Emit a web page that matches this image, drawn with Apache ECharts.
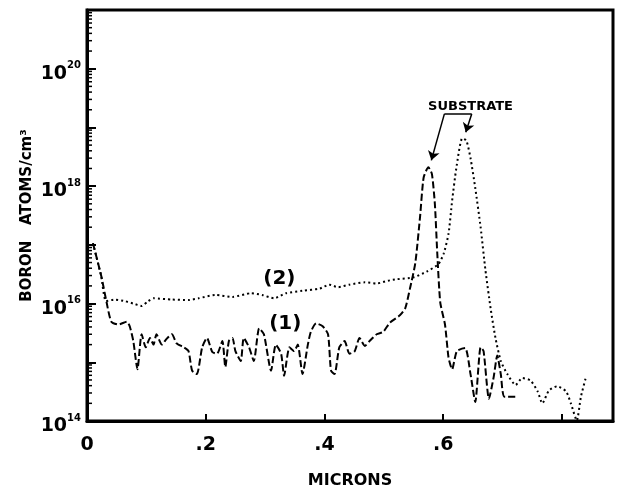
<!DOCTYPE html>
<html>
<head>
<meta charset="utf-8">
<script src="https://cdn.jsdelivr.net/npm/echarts@6/dist/echarts.min.js"></script>
<style>
  html, body { margin: 0; padding: 0; background: #fff; }
  #main { width: 618px; height: 494px; }
</style>
</head>
<body>
<div id="main"></div>
<script>
// depth in microns, boron concentration in atoms/cm3
var depth1 = [0.010,0.024,0.033,0.041,0.053,0.067,0.072,0.078,0.085,0.092,0.099,0.106,0.112,0.117,0.126,0.134,0.143,0.151,0.163,0.171,0.177,0.185,0.194,0.202,0.211,0.219,0.228,0.233,0.239,0.245,0.250,0.259,0.264,0.273,0.281,0.290,0.298,0.310,0.318,0.327,0.332,0.341,0.349,0.355,0.363,0.372,0.377,0.386,0.397,0.406,0.411,0.417,0.425,0.434,0.442,0.451,0.459,0.468,0.476,0.488,0.499,0.510,0.527,0.536,0.544,0.553,0.561,0.567,0.575,0.581,0.586,0.590,0.595,0.603,0.609,0.615,0.623,0.637,0.646,0.654,0.663,0.668,0.677,0.685,0.691,0.697,0.703,0.725];
var boron1 = [1.07e17,2.95e16,1.05e16,4.9e15,4.4e15,4.9e15,4.1e15,2.3e15,7.6e14,3.0e15,1.8e15,2.6e15,2.0e15,3.0e15,2.0e15,2.5e15,3.0e15,2.1e15,1.8e15,1.55e15,7.2e14,6.3e14,1.8e15,2.6e15,1.5e15,1.4e15,2.3e15,8.3e14,2.3e15,2.6e15,1.55e15,1.05e15,2.6e15,1.8e15,1.05e15,3.8e15,3.0e15,7.2e14,2.0e15,1.4e15,5.9e14,1.8e15,1.55e15,2.0e15,6.3e14,2.0e15,3.3e15,4.6e15,4.1e15,3.0e15,7.2e14,6.3e14,1.8e15,2.3e15,1.4e15,1.55e15,2.6e15,1.9e15,2.3e15,3.0e15,3.3e15,4.7e15,6.3e15,8.3e15,1.8e16,4.9e16,3.0e17,1.4e18,2.1e18,1.6e18,4.9e17,7.2e16,1.05e16,4.4e15,1.2e15,7.6e14,1.55e15,1.75e15,6.3e14,2.1e14,1.8e15,1.55e15,2.4e14,5.6e14,1.3e15,6.3e14,2.6e14,2.6e14];

var depth2 = [0.010,0.024,0.032,0.047,0.064,0.078,0.092,0.103,0.112,0.143,0.171,0.188,0.216,0.245,0.276,0.295,0.315,0.335,0.363,0.392,0.408,0.423,0.442,0.468,0.488,0.507,0.522,0.550,0.572,0.592,0.601,0.609,0.615,0.622,0.632,0.639,0.646,0.654,0.663,0.671,0.680,0.688,0.697,0.708,0.722,0.733,0.747,0.759,0.767,0.778,0.792,0.807,0.815,0.825,0.832,0.841];
var boron2 = [1.07e17,2.9e16,1.1e16,1.17e16,1.1e16,1.0e16,9.1e15,1.1e16,1.23e16,1.17e16,1.15e16,1.23e16,1.4e16,1.3e16,1.5e16,1.4e16,1.23e16,1.5e16,1.65e16,1.8e16,2.1e16,1.9e16,2.1e16,2.3e16,2.2e16,2.45e16,2.6e16,2.8e16,3.5e16,4.7e16,7.2e16,1.55e17,5.6e17,2.0e18,6.5e18,6.0e18,3.0e18,9.3e17,2.0e17,3.8e16,8.1e15,2.6e15,1.05e15,6.3e14,4.1e14,5.4e14,4.9e14,3.2e14,2.0e14,3.3e14,3.9e14,3.2e14,2.0e14,1.02e14,2.6e14,5.9e14];

var xTickLabels = ['0', '.2', '.4', '.6'];
var yDecades = [14, 15, 16, 17, 18, 19, 20, 21];

// curve labels and the substrate bracket, in data units
var notePos = [[0.324, 2.6e16], [0.334, 4.5e15], [0.646, 2.3e19]];
var noteText = ['(2)', '(1)', 'SUBSTRATE'];
var noteSize = [20, 20, 13];
var bracket = [[0.602, 1.7e19], [0.648, 1.7e19]];
var arrowTips = [[0.580, 2.75e18], [0.638, 8.3e18]];

var font = 'DejaVu Sans';

var minorTicks = [];
yDecades.slice(0, -1).forEach(function (e) {
  for (var m = 2; m <= 9; m++) minorTicks.push([0, m * Math.pow(10, e)]);
});

var line1 = depth1.map(function (d, i) { return [d, boron1[i]]; });
var line2 = depth2.map(function (d, i) { return [d, boron2[i]]; });

var myChart = echarts.init(document.getElementById('main'));

myChart.setOption({
  animation: false,
  grid: {
    left: 87, right: 5, top: 10, bottom: 67,
    show: true, borderColor: '#000', borderWidth: 3, backgroundColor: 'transparent'
  },
  xAxis: {
    type: 'value', min: 0, max: 0.886, interval: 0.2,
    name: 'MICRONS', nameLocation: 'middle', nameGap: 52,
    nameTextStyle: { fontFamily: font, fontWeight: 'bold', fontSize: 16, color: '#000' },
    axisLine: { lineStyle: { color: '#000', width: 3 } },
    axisTick: { inside: true, length: 7, lineStyle: { color: '#000', width: 2 } },
    splitLine: { show: false },
    axisLabel: {
      margin: 15, color: '#000', fontFamily: font, fontWeight: 'bold', fontSize: 19,
      formatter: function (v) {
        var k = Math.round(v / 0.2);
        return (Math.abs(v - k * 0.2) < 1e-6 && k < xTickLabels.length) ? xTickLabels[k] : '';
      }
    }
  },
  yAxis: {
    type: 'log', logBase: 10, min: 1e14, max: 1e21, interval: 1,
    name: 'BORON   ATOMS/cm³', nameLocation: 'middle', nameGap: 52, nameMoveOverlap: false,
    nameTextStyle: { fontFamily: font, fontWeight: 'bold', fontSize: 15, color: '#000' },
    axisLine: { lineStyle: { color: '#000', width: 3 } },
    axisTick: { inside: true, length: 9, lineStyle: { color: '#000', width: 2 } },
    splitLine: { show: false },
    axisLabel: {
      margin: 6, color: '#000',
      formatter: function (v) {
        var e = Math.round(Math.log10(v));
        if (e % 2 || e > 20) return '';
        return '{b|10}{s|' + e + '}';
      },
      rich: {
        b: { fontFamily: font, fontWeight: 'bold', fontSize: 19, lineHeight: 24, color: '#000', padding: [10, 0, 0, 0] },
        s: { fontFamily: font, fontWeight: 'bold', fontSize: 10, verticalAlign: 'top', lineHeight: 24, color: '#000', padding: [4, 0, 0, 0] }
      }
    }
  },
  series: [
    {
      name: 'minor ticks', type: 'custom', silent: true, clip: false, z: 10,
      coordinateSystem: 'cartesian2d',
      dimensions: ['x', 'y'], encode: { x: 0, y: 1 },
      data: minorTicks,
      renderItem: function (params, api) {
        var p = api.coord([api.value(0), api.value(1)]);
        return {
          type: 'line',
          shape: { x1: p[0], y1: p[1], x2: p[0] + 5, y2: p[1] },
          style: { stroke: '#000', lineWidth: 1.5 }
        };
      }
    },
    {
      name: '(1)', type: 'line', data: line1, symbol: 'none', smooth: 0.2,
      lineStyle: { color: '#000', width: 2, type: [7, 3] }
    },
    {
      name: '(2)', type: 'line', data: line2, symbol: 'none', smooth: 0.2,
      lineStyle: { color: '#000', width: 2, type: [2, 3] },
      markLine: {
        silent: true, symbolSize: 9,
        lineStyle: { color: '#000', width: 1.5, type: 'solid' },
        label: { show: false },
        data: [
          [{ coord: bracket[0], symbol: 'none' }, { coord: arrowTips[0], symbol: 'arrow' }],
          [{ coord: bracket[0], symbol: 'none' }, { coord: bracket[1], symbol: 'none' }],
          [{ coord: bracket[1], symbol: 'none' }, { coord: arrowTips[1], symbol: 'arrow' }]
        ]
      }
    },
    {
      name: 'notes', type: 'custom', silent: true, clip: false, z: 20,
      coordinateSystem: 'cartesian2d',
      dimensions: ['x', 'y', 'i'], encode: { x: 0, y: 1 },
      data: notePos.map(function (p, i) { return [p[0], p[1], i]; }),
      renderItem: function (params, api) {
        var i = api.value(2);
        var p = api.coord([api.value(0), api.value(1)]);
        return {
          type: 'text',
          x: p[0], y: p[1],
          style: {
            text: noteText[i], fill: '#000', align: 'center', verticalAlign: 'middle',
            font: 'bold ' + noteSize[i] + 'px "' + font + '"'
          }
        };
      }
    }
  ]
});
</script>
</body>
</html>
